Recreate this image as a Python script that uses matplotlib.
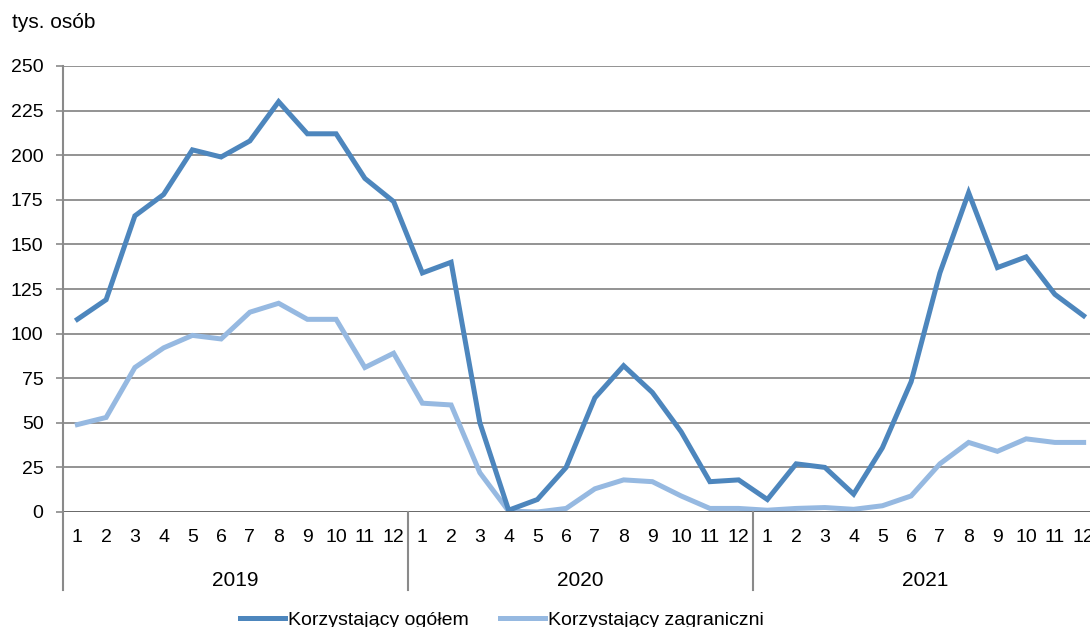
import numpy as np
import matplotlib
matplotlib.use("Agg")
import matplotlib.pyplot as plt
import matplotlib.transforms as mtransforms

plt.rcParams['font.family'] = ['Liberation Sans', 'DejaVu Sans']

# monthly data, thousands of people
years = ['2019', '2020', '2021']
months = [str(m) for m in range(1, 13)]

ogolem = [108, 119, 166, 178, 203, 199, 208, 230, 212, 212, 187, 174,
          134, 140, 50, 1, 7, 25, 64, 82, 67, 45, 17, 18,
          7, 27, 25, 10, 36, 73, 134, 179, 137, 143, 122, 110]
zagraniczni = [49, 53, 81, 92, 99, 97, 112, 117, 108, 108, 81, 89,
               61, 60, 22, 0.5, 0, 2, 13, 18, 17, 9, 2, 2,
               1, 2, 2.5, 1.5, 3.5, 9, 27, 39, 34, 41, 39, 39]

y_ticks = [0, 25, 50, 75, 100, 125, 150, 175, 200, 225, 250]

dark = '#4d86bd'
light = '#96b9e1'
grid_col = '#8a8a8a'

W, H = 1090, 627
fig = plt.figure(figsize=(W / 100, H / 100), dpi=100)
# axes runs past the right edge, as in the original (last month is cut off)
ax = fig.add_axes([63 / W, (H - 512) / H, 36 * 28.75 / W, 446 / H])

x = np.arange(len(ogolem))
ax.plot(x, ogolem, color=dark, lw=3.6, solid_joinstyle='miter', zorder=3,
        label='Korzystający ogółem')
ax.plot(x, zagraniczni, color=light, lw=3.6, solid_joinstyle='miter', zorder=2,
        label='Korzystający zagraniczni')

ax.set_xlim(-0.5, len(ogolem) - 0.5)
ax.set_ylim(0, 250)
ax.set_yticks(y_ticks)
ax.tick_params(axis='y', labelsize=14, length=5, width=1.2, color=grid_col, pad=9)
for yv in y_ticks[1:]:
    ax.axhline(yv, color=grid_col, lw=1.3, zorder=1)
ax.axhline(0, color='#5a5a5a', lw=2, zorder=4)

ax.set_xticks(x)
ax.set_xticklabels(months * 3)
ax.tick_params(axis='x', labelsize=14, length=0, pad=12)

for s in ['top', 'right', 'bottom', 'left']:
    ax.spines[s].set_visible(False)

# category separators going down through the label area
trans = mtransforms.blended_transform_factory(ax.transData, ax.transAxes)
for sep in [-0.5, 11.5, 23.5]:
    ax.plot([sep, sep], [-0.175, 1.0 if sep < 0 else 0], transform=trans,
            color=grid_col, lw=1.5, clip_on=False, zorder=5)

for i, yr in enumerate(years):
    ax.text(i * 12 + 5.5, -0.153, yr, transform=trans, ha='center', va='center',
            fontsize=15)

fig.text(12 / W, 1 - 22 / H, 'tys. osób', fontsize=15, va='center', ha='left')

fig.legend(loc='center', bbox_to_anchor=(502 / W, 1 - 620 / H), ncol=2,
           frameon=False, fontsize=14, handlelength=2.3, handletextpad=0.15,
           columnspacing=1.6)

fig.savefig('out.png', dpi=100)
